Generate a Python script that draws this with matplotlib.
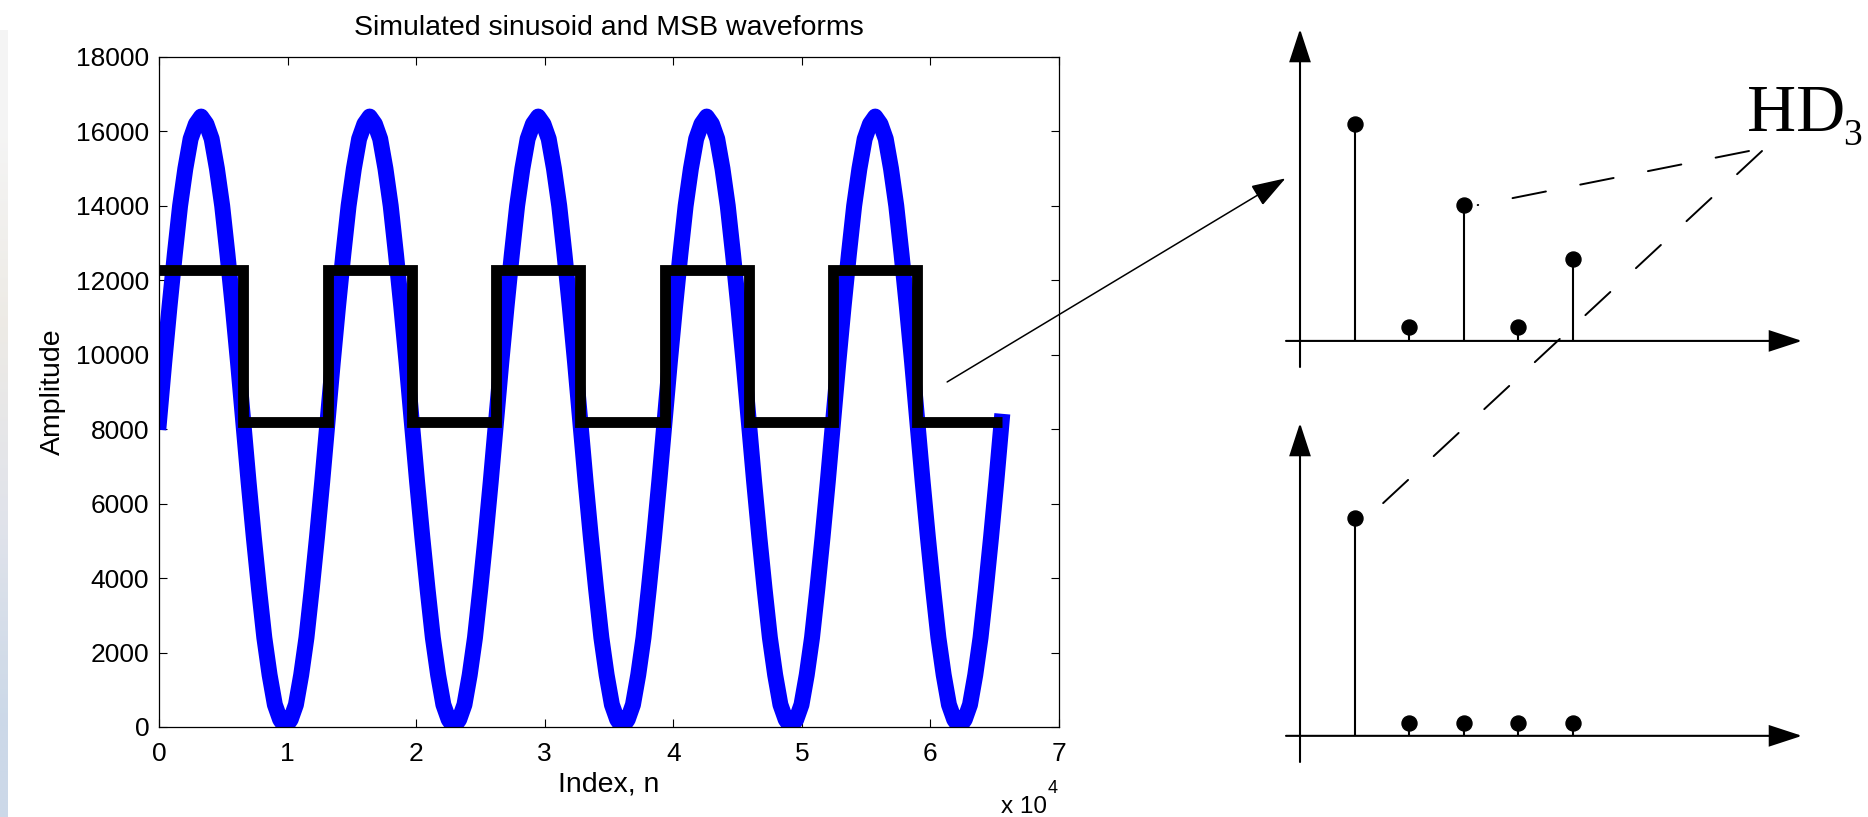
import matplotlib.pyplot as plt
import numpy as np
from matplotlib.patches import ConnectionPatch

plt.rcParams['font.family'] = ['Liberation Sans', 'DejaVu Sans']
plt.rcParams['lines.scale_dashes'] = False

W, H = 1868, 817  # output size in pixels (dpi 100)

# 16-bit sine, 5 cycles over 65536 samples, read every 1/32 of a cycle
n_total = 65536
sine_amp = [
    8200, 9800, 11300, 12700, 14000, 15000, 15800, 16200, 16400, 16200, 15800, 15000, 14000, 12700, 11300, 9800,
    8200, 6600, 5100, 3700, 2400, 1400, 600, 200, 0, 200, 600, 1400, 2400, 3700, 5100, 6600,
    8200, 9800, 11300, 12700, 14000, 15000, 15800, 16200, 16400, 16200, 15800, 15000, 14000, 12700, 11300, 9800,
    8200, 6600, 5100, 3700, 2400, 1400, 600, 200, 0, 200, 600, 1400, 2400, 3700, 5100, 6600,
    8200, 9800, 11300, 12700, 14000, 15000, 15800, 16200, 16400, 16200, 15800, 15000, 14000, 12700, 11300, 9800,
    8200, 6600, 5100, 3700, 2400, 1400, 600, 200, 0, 200, 600, 1400, 2400, 3700, 5100, 6600,
    8200, 9800, 11300, 12700, 14000, 15000, 15800, 16200, 16400, 16200, 15800, 15000, 14000, 12700, 11300, 9800,
    8200, 6600, 5100, 3700, 2400, 1400, 600, 200, 0, 200, 600, 1400, 2400, 3700, 5100, 6600,
    8200, 9800, 11300, 12700, 14000, 15000, 15800, 16200, 16400, 16200, 15800, 15000, 14000, 12700, 11300, 9800,
    8200, 6600, 5100, 3700, 2400, 1400, 600, 200, 0, 200, 600, 1400, 2400, 3700, 5100, 6600,
    8200,
]
# MSB of the same signal: one level per half cycle
msb_edges = [0, 6554, 13107, 19661, 26214, 32768, 39322, 45875, 52429, 58982, 65536]
msb_level = [12288, 8192, 12288, 8192, 12288, 8192, 12288, 8192, 12288, 8192]

x_ticks = [0, 1, 2, 3, 4, 5, 6, 7]  # x 10^4
y_ticks = [0, 2000, 4000, 6000, 8000, 10000, 12000, 14000, 16000, 18000]

# sketched spectra (fundamental = 1)
harmonics = [1, 2, 3, 4, 5]
msb_spectrum = [1.0, 0.065, 0.625, 0.065, 0.375]
sine_spectrum = [1.0, 0.06, 0.06, 0.06, 0.06]


def px_box(x0, y0, x1, y1):
    return [x0 / W, 1 - y1 / H, (x1 - x0) / W, (y1 - y0) / H]


def px_pt(x, y):
    return (x / W, 1 - y / H)


fig = plt.figure(figsize=(W / 100, H / 100), dpi=100)

# thin shaded strip on the left edge
strip = fig.add_axes(px_box(0, 30, 8, H))
shade = np.array([[0.96, 0.96, 0.96], [0.93, 0.92, 0.90], [0.88, 0.89, 0.92], [0.80, 0.85, 0.91]])
strip.imshow(shade[:, None, :], aspect='auto', interpolation='bilinear')
strip.set_axis_off()

# --- waveform plot ---
ax = fig.add_axes(px_box(159, 57, 1059, 727))
n_idx = np.linspace(0, n_total, len(sine_amp))
ax.plot(n_idx, sine_amp, color='blue', lw=11.5, solid_joinstyle='round', zorder=2)
ax.stairs(msb_level, msb_edges, color='black', lw=7.8, baseline=None,
          joinstyle='miter', capstyle='butt', zorder=3)

ax.set_xlim(0, 70000)
ax.set_ylim(0, 18000)
ax.set_xticks([t * 1e4 for t in x_ticks])
ax.set_xticklabels([str(t) for t in x_ticks])
ax.set_yticks(y_ticks)
ax.tick_params(direction='in', length=5.8, width=0.8, top=True, right=True, labelsize=19)
ax.tick_params(axis='x', pad=11)
ax.tick_params(axis='y', pad=7)
for sp in ax.spines.values():
    sp.set_linewidth(0.9)
ax.set_title('Simulated sinusoid and MSB waveforms', fontsize=20.5, pad=15.5)
ax.set_xlabel('Index, n', fontsize=20.5, labelpad=4)
ax.set_ylabel('Amplitude', fontsize=20.5, labelpad=7)
fig.text(*px_pt(1047, 813), 'x 10', ha='right', va='baseline', fontsize=17.5)
fig.text(*px_pt(1048, 793), '4', ha='left', va='baseline', fontsize=13)

# --- spectrum sketches ---
kmin, kmax = -0.257, 9.211
amin, amax = -0.12, 1.435
axis_arrow = dict(arrowstyle='-|>,head_length=1.04,head_width=0.34', mutation_scale=20,
                  lw=1.5, color='k', shrinkA=0, shrinkB=0, joinstyle='miter', clip_on=False)

ax_up = fig.add_axes(px_box(1286, 29, 1802, 367))
ax_lo = fig.add_axes(px_box(1286, 423, 1802, 762))
for sx, spec in ((ax_up, msb_spectrum), (ax_lo, sine_spectrum)):
    sx.set_xlim(kmin, kmax)
    sx.set_ylim(amin, amax)
    sx.set_axis_off()
    sx.annotate('', xy=(kmax, 0), xytext=(kmin, 0), arrowprops=axis_arrow)
    sx.annotate('', xy=(0, amax), xytext=(0, amin), arrowprops=axis_arrow)
    mk, st, bl = sx.stem(harmonics, spec, linefmt='k-', markerfmt='ko')
    bl.set_visible(False)
    mk.set_markersize(10.8)
    mk.set_zorder(4)
    st.set_linewidth(1.5)

# arrows from the waveforms to their spectra
link = dict(arrowstyle='-|>,head_length=1.08,head_width=0.36', mutation_scale=20,
            lw=1.1, color='k', joinstyle='miter')
fig.add_artist(ConnectionPatch(xyA=(61300, 9270), coordsA='data', axesA=ax,
                               xyB=(-0.266, 0.748), coordsB='data', axesB=ax_up, **link))
fig.add_artist(ConnectionPatch(xyA=(65490, 3790), coordsA='data', axesA=ax,
                               xyB=(-0.519, 0.565), coordsB='data', axesB=ax_lo, **link))

# HD3 label with dashed leaders
fig.text(*px_pt(1747, 131), 'HD', family=['Liberation Serif', 'DejaVu Serif'], fontsize=49, va='baseline')
fig.text(*px_pt(1843, 145), '3', family=['Liberation Serif', 'DejaVu Serif'], fontsize=27, va='baseline')
dash = dict(lw=1.4, color='k', linestyle=(0, (24.5, 25.2)))
fig.add_artist(ConnectionPatch(xyA=px_pt(1749, 151), coordsA='figure fraction',
                               xyB=(harmonics[2] + 0.26, msb_spectrum[2]), coordsB='data',
                               axesB=ax_up, **dash))
fig.add_artist(ConnectionPatch(xyA=px_pt(1762, 151), coordsA='figure fraction',
                               xyB=(1.523, 1.067), coordsB='data', axesB=ax_lo, **dash))

fig.savefig('out.png', dpi=100)
